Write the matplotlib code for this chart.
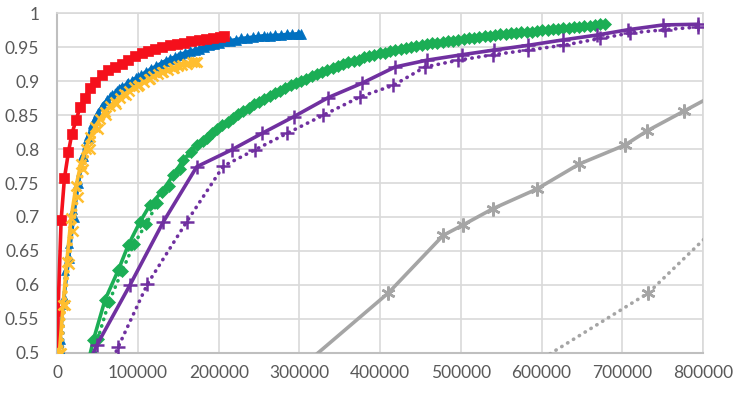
import matplotlib
matplotlib.use("Agg")
import matplotlib.pyplot as plt
import numpy as np
from matplotlib.ticker import FuncFormatter

# red squares
red_x = [0, 800, 4600, 8700, 13600, 17800, 23200, 28100, 34300, 40500, 46700, 55000, 63200, 71500,
         79800, 88000, 96300, 104600, 112800, 121000, 130000, 139000, 148000, 157000, 166000,
         175000, 184000, 193000, 202000, 206000]
red_y = [0.30, 0.561, 0.695, 0.757, 0.795, 0.822, 0.843, 0.862, 0.876, 0.890, 0.899, 0.909, 0.916, 0.921,
         0.926, 0.931, 0.937, 0.941, 0.945, 0.948, 0.951, 0.953, 0.955, 0.957, 0.959,
         0.961, 0.962, 0.964, 0.965, 0.966]

# blue triangles, solid
blue_x = [0, 3000, 8000, 14000, 20000, 26000, 32000, 38000, 44000, 50000, 56000, 62000, 68000, 74000,
          80000, 86000, 92000, 98000, 104000, 110000, 116000, 122000, 128000, 134000, 140000, 146000,
          152000, 158000, 164000, 170000, 176000, 182000, 188000, 194000, 200000, 207000, 214000,
          221000, 228000, 235000, 242000, 249000, 256000, 263000, 270000, 277000, 284000, 291000,
          298000, 302000]
blue_y = [0.45, 0.52, 0.58, 0.64, 0.70, 0.75, 0.79, 0.817, 0.838, 0.853, 0.864, 0.873, 0.880, 0.886,
          0.891, 0.896, 0.900, 0.905, 0.909, 0.914, 0.918, 0.922, 0.926, 0.930, 0.933, 0.936,
          0.939, 0.942, 0.944, 0.946, 0.948, 0.951, 0.953, 0.955, 0.957, 0.959, 0.960,
          0.961, 0.963, 0.964, 0.965, 0.966, 0.967, 0.967, 0.968, 0.968, 0.969, 0.969,
          0.970, 0.970]

# blue triangles, dotted
blue2_x = [4000, 6000, 8000, 10000, 14000, 19000, 25000, 31000, 38000, 46000, 55000, 65000, 76000,
           88000, 100000, 115000, 130000, 150000, 170000, 190000, 210000, 235000, 260000, 285000, 300000]
blue2_y = [0.40, 0.50, 0.57, 0.62, 0.66, 0.71, 0.755, 0.79, 0.82, 0.845, 0.863, 0.878, 0.89,
           0.899, 0.907, 0.917, 0.926, 0.937, 0.946, 0.953, 0.959, 0.964, 0.967, 0.969, 0.970]

# orange crosses, solid
orange_x = [0, 2500, 7000, 11600, 17000, 23000, 29000, 35000, 41000, 47000, 53000, 59000, 65000,
            71000, 77000, 83000, 89000, 95000, 101000, 107000, 113000, 119000, 125000, 131000,
            137000, 143000, 149000, 155000, 161000, 167000, 172700]
orange_y = [0.42, 0.50, 0.57, 0.634, 0.699, 0.745, 0.778, 0.800, 0.818, 0.833, 0.845, 0.855, 0.863,
            0.870, 0.876, 0.881, 0.886, 0.891, 0.895, 0.899, 0.903, 0.907, 0.911, 0.914,
            0.917, 0.920, 0.922, 0.924, 0.926, 0.928, 0.929]

# orange crosses, dotted
orange2_x = [3000, 5000, 9000, 14000, 19000, 25000, 32000, 40000, 50000, 60000, 72000, 85000,
             100000, 115000, 130000, 145000, 160000, 170000]
orange2_y = [0.42, 0.50, 0.57, 0.63, 0.68, 0.73, 0.77, 0.80, 0.83, 0.85, 0.866, 0.88,
             0.893, 0.904, 0.913, 0.920, 0.925, 0.928]

# green diamonds, solid
green_x = [35000, 44700, 59100, 75600, 88000, 102500, 114900, 129400, 143700, 156100, 172700, 185000,
           198000, 211000, 224000, 237000, 250000, 263000, 276000, 289000, 302000, 315000, 328000,
           341000, 354000, 367000, 380000, 393000, 406000, 419000, 432000, 445000, 458000, 471000,
           484000, 497000, 510000, 523000, 536000, 549000, 562000, 575000, 588000, 601000, 614000,
           627000, 640000, 653000, 666000, 678700]
green_y = [0.47, 0.519, 0.578, 0.622, 0.659, 0.693, 0.718, 0.737, 0.762, 0.784, 0.806, 0.817,
           0.829, 0.840, 0.851, 0.861, 0.870, 0.878, 0.886, 0.894, 0.901, 0.907, 0.913,
           0.919, 0.925, 0.930, 0.935, 0.939, 0.942, 0.946, 0.949, 0.952, 0.955, 0.957,
           0.959, 0.961, 0.963, 0.965, 0.967, 0.969, 0.971, 0.972, 0.973, 0.975, 0.977,
           0.978, 0.980, 0.981, 0.983, 0.985]

# green diamonds, dotted
green2_x = [42000, 50000, 64000, 80000, 95000, 110000, 124000, 138000, 152000, 166000, 180000,
            191500, 204500, 217500, 230500, 243500, 256500, 269500, 282500, 295500, 308500,
            321500, 334500, 347500, 360500, 373500, 386500, 399500, 412500, 425500, 438500,
            451500, 464500, 477500, 490500, 503500, 516500, 529500, 542500, 555500, 568500,
            581500, 594500, 607500, 620500, 633500, 646500, 659500, 672500]
green2_y = [0.47, 0.52, 0.575, 0.62, 0.66, 0.69, 0.72, 0.745, 0.77, 0.795, 0.812,
            0.823, 0.835, 0.846, 0.856, 0.866, 0.874, 0.882, 0.890, 0.898, 0.904,
            0.910, 0.916, 0.922, 0.928, 0.932, 0.937, 0.941, 0.944, 0.948, 0.951,
            0.954, 0.956, 0.958, 0.960, 0.962, 0.964, 0.966, 0.968, 0.970, 0.971,
            0.973, 0.974, 0.976, 0.977, 0.979, 0.980, 0.982, 0.984]

# purple plus, solid
purple_x = [7500, 48800, 90100, 131400, 172700, 216100, 253300, 293300, 335800, 377200, 418500,
            457700, 501100, 541100, 583700, 627000, 668400, 707600, 750900, 794300]
purple_y = [0.40, 0.511, 0.600, 0.693, 0.774, 0.799, 0.823, 0.848, 0.876, 0.897, 0.921,
            0.931, 0.939, 0.946, 0.953, 0.961, 0.968, 0.976, 0.983, 0.984]

# purple plus, dotted
purple2_x = [34000, 75600, 111500, 160300, 205700, 245000, 284300, 329600, 375100, 416400,
             455600, 497000, 539300, 583700, 627000, 672500, 709700, 753000, 794300]
purple2_y = [0.40, 0.509, 0.601, 0.693, 0.775, 0.799, 0.823, 0.850, 0.877, 0.894,
             0.921, 0.931, 0.939, 0.946, 0.953, 0.963, 0.971, 0.976, 0.980]

# gray stars, solid and dotted
gray_x = [290000, 410200, 478300, 502400, 539500, 594000, 646800, 703500, 731100, 776600, 830000]
gray_y = [0.466, 0.588, 0.673, 0.688, 0.712, 0.741, 0.778, 0.806, 0.827, 0.856, 0.89]
gray2_x = [560000, 732400, 830000]
gray2_y = [0.461, 0.588, 0.70]

plt.rcParams['font.family'] = ['Lato', 'DejaVu Sans']

fig = plt.figure(figsize=(7.36, 3.94), dpi=100)
ax = fig.add_axes([0.078, 0.105, 0.877, 0.861])

dots = (0, (0.1, 1.8))
star = (6, 2, 0)
lw = 2.6

series = [
    (blue_x, blue_y, '#0070C0', '^', 7, '-'),
    (blue2_x, blue2_y, '#0070C0', '^', 6, dots),
    (red_x, red_y, '#F5101C', 's', 7.5, '-'),
    (orange_x, orange_y, '#FFBE2E', 'x', 7, '-'),
    (orange2_x, orange2_y, '#FFBE2E', 'x', 7, dots),
    (green2_x, green2_y, '#1BAE55', 'D', 6.5, dots),
    (green_x, green_y, '#1BAE55', 'D', 6.5, '-'),
    (purple2_x, purple2_y, '#7030A0', '+', 10, dots),
    (purple_x, purple_y, '#7030A0', '+', 10, '-'),
    (gray2_x, gray2_y, '#A5A5A5', star, 10, dots),
    (gray_x, gray_y, '#A5A5A5', star, 10, '-'),
]
for xs, ys, c, m, ms, ls in series:
    ax.plot(xs, ys, color=c, lw=lw, linestyle=ls, marker=m, markersize=ms,
            markeredgewidth=1.8 if m in ('x', '+', star) else 0.5,
            dash_capstyle='round', zorder=3)

ax.set_xlim(0, 800000)
ax.set_ylim(0.5, 1.0)
ax.set_xticks(np.arange(0, 800001, 100000))
ax.set_yticks(np.arange(0.5, 1.0001, 0.05))
ax.yaxis.set_major_formatter(FuncFormatter(lambda v, p: '%g' % round(v, 2)))
ax.xaxis.set_major_formatter(FuncFormatter(lambda v, p: '%d' % v))

ax.grid(True, color='#D9D9D9', lw=1.2, zorder=0)
ax.set_axisbelow(True)
for s in ['top', 'right']:
    ax.spines[s].set_color('#D9D9D9')
    ax.spines[s].set_linewidth(1.2)
for s in ['left', 'bottom']:
    ax.spines[s].set_color('#BFBFBF')
    ax.spines[s].set_linewidth(1.5)
ax.tick_params(length=0, labelsize=12.5, labelcolor='#595959')
ax.tick_params(axis='y', pad=13)
ax.tick_params(axis='x', pad=9)

fig.savefig('out.png', dpi=100)
